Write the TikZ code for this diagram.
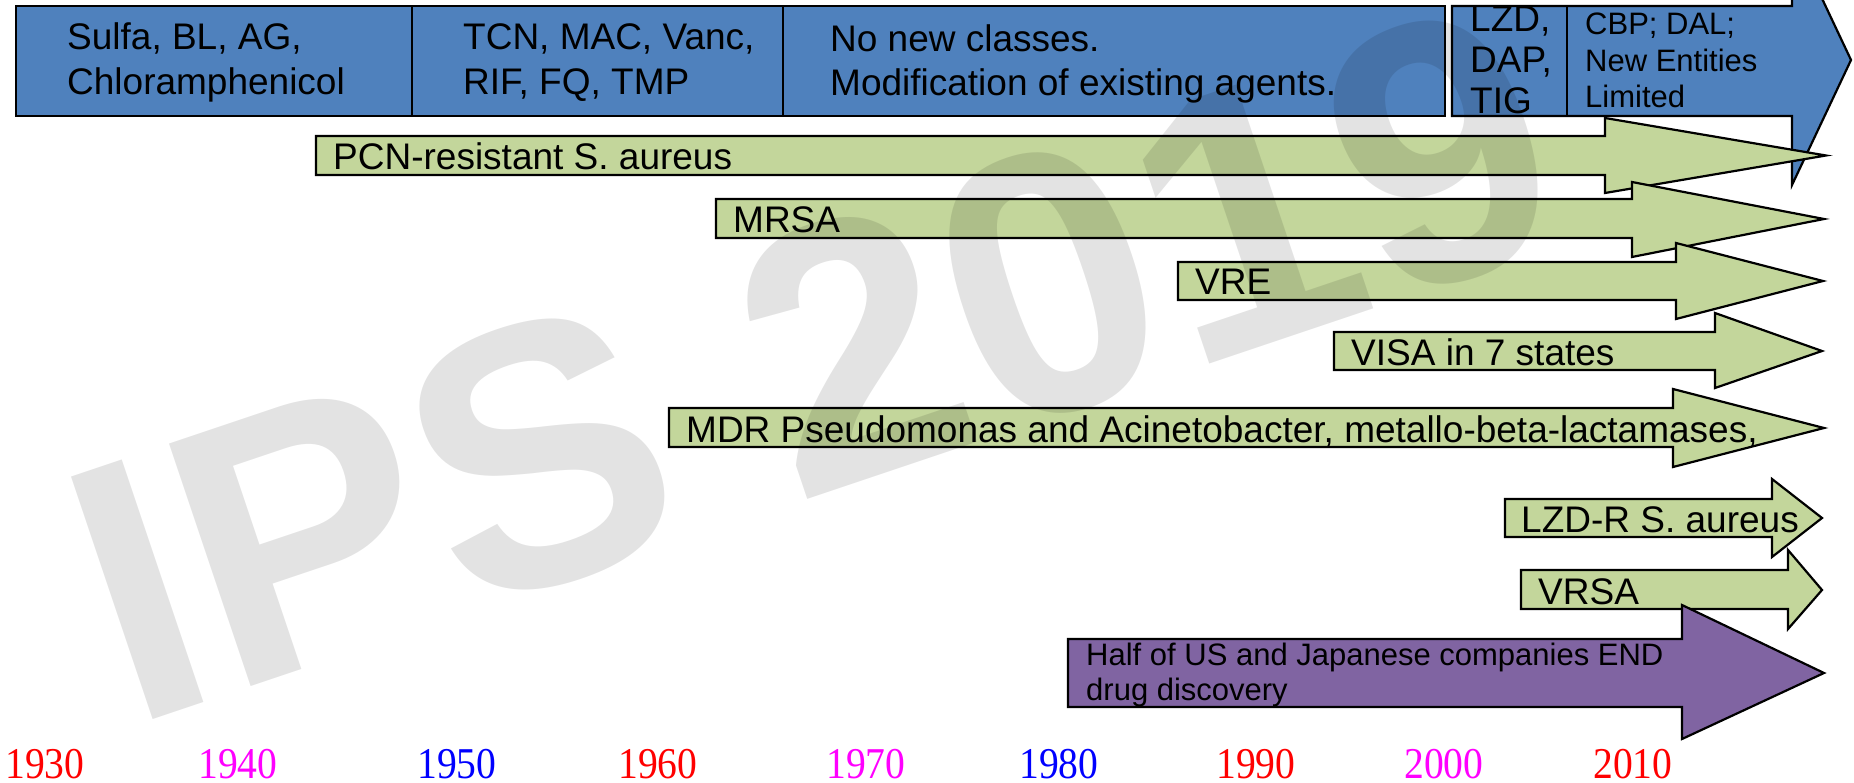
\documentclass[tikz,border=0pt]{standalone}
\usepackage{fontspec}
\setmainfont{Liberation Sans}
\newfontfamily\yearfont[FakeStretch=0.9]{Liberation Serif}
\definecolor{boxblue}{HTML}{4F81BD}
\definecolor{lgreen}{HTML}{C3D69B}
\definecolor{purp}{HTML}{8064A2}
\definecolor{yred}{HTML}{FF0000}
\definecolor{ymag}{HTML}{FF00FF}
\definecolor{yblue}{HTML}{0000FF}
% style, x0, shaft top, shaft bottom, head back x, head top, head bottom, tip x, tip y
\newcommand{\tlarrow}[9]{\draw[#1] (#2,#3) -- (#5,#3) -- (#5,#6) -- (#8,#9) -- (#5,#7) -- (#5,#4) -- (#2,#4) -- cycle;}
\begin{document}
\begin{tikzpicture}[x=1pt,y=-1pt,
  shp/.style={draw=black,line width=2.2pt,line join=miter},
  garrow/.style={shp,fill=lgreen},
  lbl/.style={anchor=base west,inner sep=0pt,font=\fontsize{37}{44}\selectfont},
  small/.style={anchor=base west,inner sep=0pt,font=\fontsize{31}{36}\selectfont},
  yr/.style={anchor=base west,inner sep=0pt,font=\yearfont\fontsize{44}{48}\selectfont}]
\useasboundingbox (0,0) rectangle (1854,783);
\clip (0,0) rectangle (1854,783);
\fill[white] (0,0) rectangle (1854,783);

% top blue bar
\draw[shp,fill=boxblue] (16,6) rectangle (412,116);
\draw[shp,fill=boxblue] (412,6) rectangle (783,116);
\draw[shp,fill=boxblue] (783,6) rectangle (1445,116);
\tlarrow{shp,fill=boxblue}{1452}{6}{116}{1792}{-65}{185}{1851}{60}
\draw[shp] (1567,6) -- (1567,116);

\node[lbl] (t1a) at (67,50) {Sulfa, BL, AG,};
\node[lbl] (t1b) at (67,95) {Chloramphenicol};
\node[lbl] (t2a) at (463,50) {TCN, MAC, Vanc,};
\node[lbl] (t2b) at (463,95) {RIF, FQ, TMP};
\node[lbl] (t3a) at (830,52) {No new classes.};
\node[lbl] (t3b) at (830,96) {Modification of existing agents.};
\node[lbl] (t4a) at (1470,32) {LZD,};
\node[lbl] (t4b) at (1470,73) {DAP,};
\node[lbl] (t4c) at (1470,114) {TIG};
\node[small] (t5a) at (1585,35) {CBP; DAL;};
\node[small] (t5b) at (1585,72) {New Entities};
\node[small] (t5c) at (1585,108) {Limited};

% green arrows
\tlarrow{garrow}{316}{136}{175}{1605}{118}{193}{1826}{155.5}
\node[lbl] (pcn) at (333,170) {PCN-resistant S. aureus};
\tlarrow{garrow}{716}{199}{238}{1632}{182}{257}{1824}{219}
\node[lbl] (mrsa) at (733,233) {MRSA};
\tlarrow{garrow}{1178}{262}{300}{1676}{243}{319}{1823}{281}
\node[lbl] (vre) at (1195,295) {VRE};
\tlarrow{garrow}{1334}{332}{370}{1715}{313}{388}{1822}{351}
\node[lbl] (visa) at (1351,365) {VISA in 7 states};
\tlarrow{garrow}{669}{408}{447}{1673}{389}{467}{1824}{428}
\node[lbl] (mdr) at (686,442) {MDR Pseudomonas and Acinetobacter, metallo-beta-lactamases,};
\tlarrow{garrow}{1505}{499}{537}{1772}{479}{557}{1822}{518}
\node[lbl] (lzdr) at (1521,532) {LZD-R S. aureus};
\tlarrow{garrow}{1521}{570}{609}{1788}{550}{629}{1822}{590}
\node[lbl] (vrsa) at (1538,604) {VRSA};

% purple arrow
\tlarrow{shp,fill=purp}{1068}{639}{707}{1682}{605}{739}{1824}{673}
\node[small] (half1) at (1086,665) {Half of US and Japanese companies END};
\node[small] (half2) at (1086,700) {drug discovery};

% years
\node[yr,text=yred]  (y1930) at (5,778) {1930};
\node[yr,text=ymag]  (y1940) at (198,778) {1940};
\node[yr,text=yblue] (y1950) at (417,778) {1950};
\node[yr,text=yred]  (y1960) at (618,778) {1960};
\node[yr,text=ymag]  (y1970) at (826,778) {1970};
\node[yr,text=yblue] (y1980) at (1019,778) {1980};
\node[yr,text=yred]  (y1990) at (1216,778) {1990};
\node[yr,text=ymag]  (y2000) at (1404,778) {2000};
\node[yr,text=yred]  (y2010) at (1593,778) {2010};

% watermark
\node[anchor=base west,inner sep=0pt,rotate=18.6,text=black,text opacity=0.11,
  font=\fontsize{372}{400}\selectfont\bfseries] (wm) at (129,728) {IPS 2019};
\end{tikzpicture}
\end{document}
